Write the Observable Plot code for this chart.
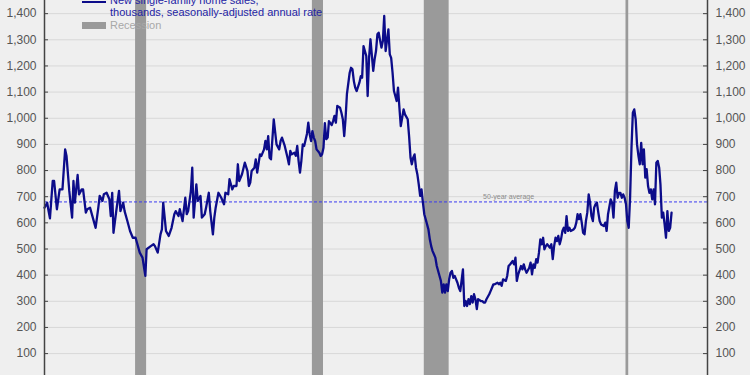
<!DOCTYPE html>
<html>
<head>
<meta charset="utf-8">
<script src="https://cdn.jsdelivr.net/npm/d3@7"></script>
<script src="https://cdn.jsdelivr.net/npm/@observablehq/plot@0.6"></script>
<style>
  html, body { margin:0; padding:0; background:#efefef; overflow:hidden; }
  #wrap { position:relative; width:750px; height:375px; overflow:hidden; background:#efefef; font-family:"Liberation Sans", Arial, sans-serif; }
  #chart { position:absolute; left:0; top:-33.45px; }
  .lg { position:absolute; white-space:nowrap; }
</style>
</head>
<body>
<div id="wrap">
  <div id="chart"></div>
  <div class="lg" style="left:82px;top:0.5px;width:24px;height:2.5px;background:#0c0c8a"></div>
  <div class="lg" id="lgtext" style="left:110px;top:-6px;font-size:11px;line-height:12.3px;color:#2424a4"></div>
  <div class="lg" style="left:82px;top:22px;width:24px;height:6.5px;background:#9a9a9a"></div>
  <div class="lg" id="lgrec" style="left:110px;top:19px;font-size:11px;line-height:12.3px;color:#a8a8a8"></div>
</div>
<script>
// ---- data (thousands, SAAR) ----
const months = [
"1985-01","1985-03","1985-04","1985-05","1985-07","1985-08","1985-10","1985-12",
"1986-02","1986-04","1986-05","1986-07","1986-09","1986-10","1986-11",
"1987-01","1987-02","1987-04","1987-05","1987-07","1987-08","1987-10",
"1988-01","1988-02","1988-04","1988-05","1988-07","1988-08","1988-10","1988-12",
"1989-01","1989-02","1989-03","1989-05","1989-07","1989-08","1989-10","1989-11",
"1990-01","1990-03","1990-05","1990-07","1990-08","1990-10","1990-12",
"1991-02","1991-03","1991-06","1991-08","1991-09","1991-11",
"1992-01","1992-02","1992-03","1992-05","1992-07","1992-09","1992-11","1992-12",
"1993-02","1993-03","1993-05","1993-07","1993-08","1993-09","1993-11","1993-12",
"1994-01","1994-03","1994-04","1994-06","1994-07","1994-09","1994-10","1994-12",
"1995-01","1995-03","1995-04","1995-05","1995-07","1995-09","1995-11","1995-12",
"1996-02","1996-03","1996-05","1996-06","1996-08","1996-09","1996-10","1996-12",
"1997-02","1997-04","1997-05","1997-06","1997-07","1997-09","1997-10","1997-11",
"1998-01","1998-02","1998-04","1998-05","1998-06","1998-07","1998-08","1998-09","1998-11",
"1999-01","1999-03","1999-04","1999-05","1999-07","1999-09","1999-10","1999-11","1999-12",
"2000-02","2000-03","2000-04","2000-05","2000-06","2000-07","2000-08","2000-09","2000-11","2000-12",
"2001-01","2001-02","2001-03","2001-04","2001-05","2001-06","2001-08","2001-09","2001-10","2001-11","2001-12",
"2002-01","2002-02","2002-03","2002-05","2002-06","2002-07","2002-08","2002-09","2002-11","2002-12",
"2003-01","2003-02","2003-03","2003-04","2003-06","2003-07","2003-08","2003-09","2003-10","2003-11",
"2004-01","2004-02","2004-03","2004-04","2004-05","2004-06","2004-07","2004-08","2004-09","2004-11","2004-12",
"2005-01","2005-02","2005-03","2005-05","2005-06","2005-07","2005-08","2005-10","2005-11","2005-12",
"2006-01","2006-02","2006-04","2006-05","2006-06","2006-07","2006-09","2006-10","2006-12",
"2007-01","2007-02","2007-03","2007-04","2007-05","2007-06","2007-07","2007-08","2007-09","2007-10","2007-11","2007-12",
"2008-01","2008-03","2008-04","2008-05","2008-06","2008-07","2008-08","2008-09","2008-11","2008-12",
"2009-01","2009-02","2009-03","2009-04","2009-05","2009-06","2009-07","2009-08","2009-09","2009-10","2009-12",
"2010-01","2010-02","2010-03","2010-04","2010-05","2010-06","2010-07","2010-08","2010-09","2010-10","2010-11","2010-12",
"2011-01","2011-02","2011-03","2011-05","2011-06","2011-07","2011-08","2011-09","2011-11","2011-12",
"2012-01","2012-02","2012-03","2012-05","2012-06","2012-07","2012-08","2012-09","2012-11","2012-12",
"2013-01","2013-02","2013-04","2013-05","2013-06","2013-07","2013-08","2013-10","2013-11","2013-12",
"2014-01","2014-02","2014-04","2014-05","2014-06","2014-07","2014-08","2014-09","2014-10","2014-11","2014-12",
"2015-01","2015-02","2015-03","2015-04","2015-05","2015-07","2015-08","2015-09","2015-10","2015-11","2015-12",
"2016-01","2016-02","2016-03","2016-04","2016-05","2016-06","2016-07","2016-08","2016-09","2016-10","2016-12",
"2017-01","2017-02","2017-03","2017-04","2017-05","2017-06","2017-07","2017-08","2017-09","2017-10","2017-11","2017-12",
"2018-01","2018-02","2018-03","2018-04","2018-05","2018-06","2018-07","2018-08","2018-10","2018-11","2018-12",
"2019-01","2019-03","2019-04","2019-05","2019-06","2019-07","2019-08","2019-09","2019-10","2019-11","2019-12",
"2020-01","2020-02","2020-03","2020-04","2020-05","2020-06","2020-07","2020-08","2020-09","2020-10","2020-11","2020-12",
"2021-01","2021-02","2021-03","2021-04","2021-05","2021-06","2021-07","2021-08","2021-09","2021-10","2021-11","2021-12",
"2022-01","2022-02","2022-03","2022-04","2022-05","2022-06","2022-07","2022-08","2022-09","2022-10","2022-11"
];
const sales = [
658,677,645,617,760,760,652,728,
728,881,856,722,620,760,677,
783,709,728,728,639,652,658,
601,581,658,703,684,709,715,690,
626,715,562,645,722,645,677,645,
607,569,543,543,524,486,467,
397,499,511,518,511,486,
556,575,677,569,550,581,633,645,
626,652,607,696,633,645,722,811,
620,747,684,703,620,633,658,715,
645,556,620,658,715,696,671,715,
709,767,728,741,741,824,760,786,
830,798,741,754,798,811,843,792,
862,856,881,913,881,932,849,843,996,
900,881,913,926,894,849,824,875,862,
868,856,894,837,792,837,900,894,940,983,
939,913,951,926,913,881,868,856,862,887,981,
920,926,989,974,989,1009,983,1047,1040,1021,
996,932,996,1092,1174,1193,1187,1142,1117,1104,
1136,1161,1155,1276,1257,1238,1085,1231,1302,1181,1225,
1257,1321,1327,1270,1295,1391,1257,1340,1244,1231,
1174,1104,1066,1117,1040,970,1034,1015,996,
930,849,824,849,862,811,786,747,703,728,677,633,
614,575,537,511,492,480,467,435,397,378,
333,365,333,365,339,384,409,416,390,397,371,
352,339,378,422,282,301,282,308,289,320,295,327,
308,270,308,301,301,295,295,308,327,339,
352,365,365,371,365,371,359,384,378,397,
435,441,454,441,467,378,403,435,422,441,
422,409,428,448,403,441,428,461,448,486,537,
518,543,499,511,518,505,518,461,511,543,530,
550,518,537,569,581,562,626,569,581,569,575,
581,601,633,614,633,601,562,556,607,639,709,677,
626,607,658,671,677,639,607,594,588,601,569,
633,690,677,620,722,754,696,715,715,696,709,
696,671,607,581,696,887,1021,1034,996,900,856,824,
906,824,881,773,805,741,715,728,690,728,671,830,
837,811,747,620,639,594,543,645,569,581,639
];
const recessionStart = ["1990-07","2001-03","2007-12","2020-02"];
const recessionEnd   = ["1991-03","2001-11","2009-06","2020-04"];
const average = 680;
const averageLabel = "50-year average";
const averageLabelAt = "2013-01";
const yTicks = [0,100,200,300,400,500,600,700,800,900,1000,1100,1200,1300,1400];
const xStart = "1985-01", xEnd = "2025-01";
const seriesLabel = ["New single-family home sales,", "thousands, seasonally-adjusted annual rate"];
const recessionLabel = "Recession";

// ---- build ----
const parse = d3.utcParse("%Y-%m");
const data = months.map((m, i) => ({date: parse(m), value: sales[i]}));
const recessions = recessionStart.map((s, i) => ({start: parse(s), end: parse(recessionEnd[i])}));
const xDomain = [parse(xStart), parse(xEnd)];

document.getElementById("lgtext").innerHTML = seriesLabel.join("<br>");
document.getElementById("lgrec").textContent = recessionLabel;

const W = 750, mL = 44, mR = 43;
const inner = W - mL - mR;
const fmt = d3.format(",");

const chart = Plot.plot({
  width: W,
  height: 442,
  marginLeft: mL,
  marginRight: mR,
  marginTop: 20,
  marginBottom: 29.75,
  style: {background: "transparent", color: "#555", fontFamily: "'Liberation Sans', Arial, sans-serif", fontSize: "12px"},
  x: {type: "utc", domain: xDomain, axis: null},
  y: {domain: [0, 1500], axis: null},
  marks: [
    Plot.gridY(yTicks, {stroke: "#d8d8d8", strokeOpacity: 1, strokeWidth: 1}),
    Plot.rect(recessions, {x1: "start", x2: "end", fill: "#9a9a9a"}),
    Plot.ruleY([average], {stroke: "#3a3af0", strokeWidth: 1, strokeDasharray: "3,2"}),
    Plot.text([averageLabel], {x: () => parse(averageLabelAt), y: () => average, text: d => d, dy: -5, fontSize: 7, fill: "#8c8c8c"}),
    Plot.line(data, {x: "date", y: "value", stroke: "#0c0c8a", strokeWidth: 2.3, strokeLinejoin: "round"}),
    Plot.ruleX(xDomain, {stroke: "#444", strokeWidth: 1.5}),
    Plot.tickY(yTicks, {y: d => d, stroke: "#444", insetRight: inner - 4}),
    Plot.tickY(yTicks, {y: d => d, stroke: "#444", insetLeft: inner - 4}),
    Plot.axisY(yTicks, {anchor: "left", tickSize: 0, tickPadding: 8, tickFormat: fmt, fontSize: 12}),
    Plot.axisY(yTicks, {anchor: "right", tickSize: 0, tickPadding: 8, tickFormat: fmt, fontSize: 12})
  ]
});
document.getElementById("chart").appendChild(chart);
</script>
</body>
</html>
